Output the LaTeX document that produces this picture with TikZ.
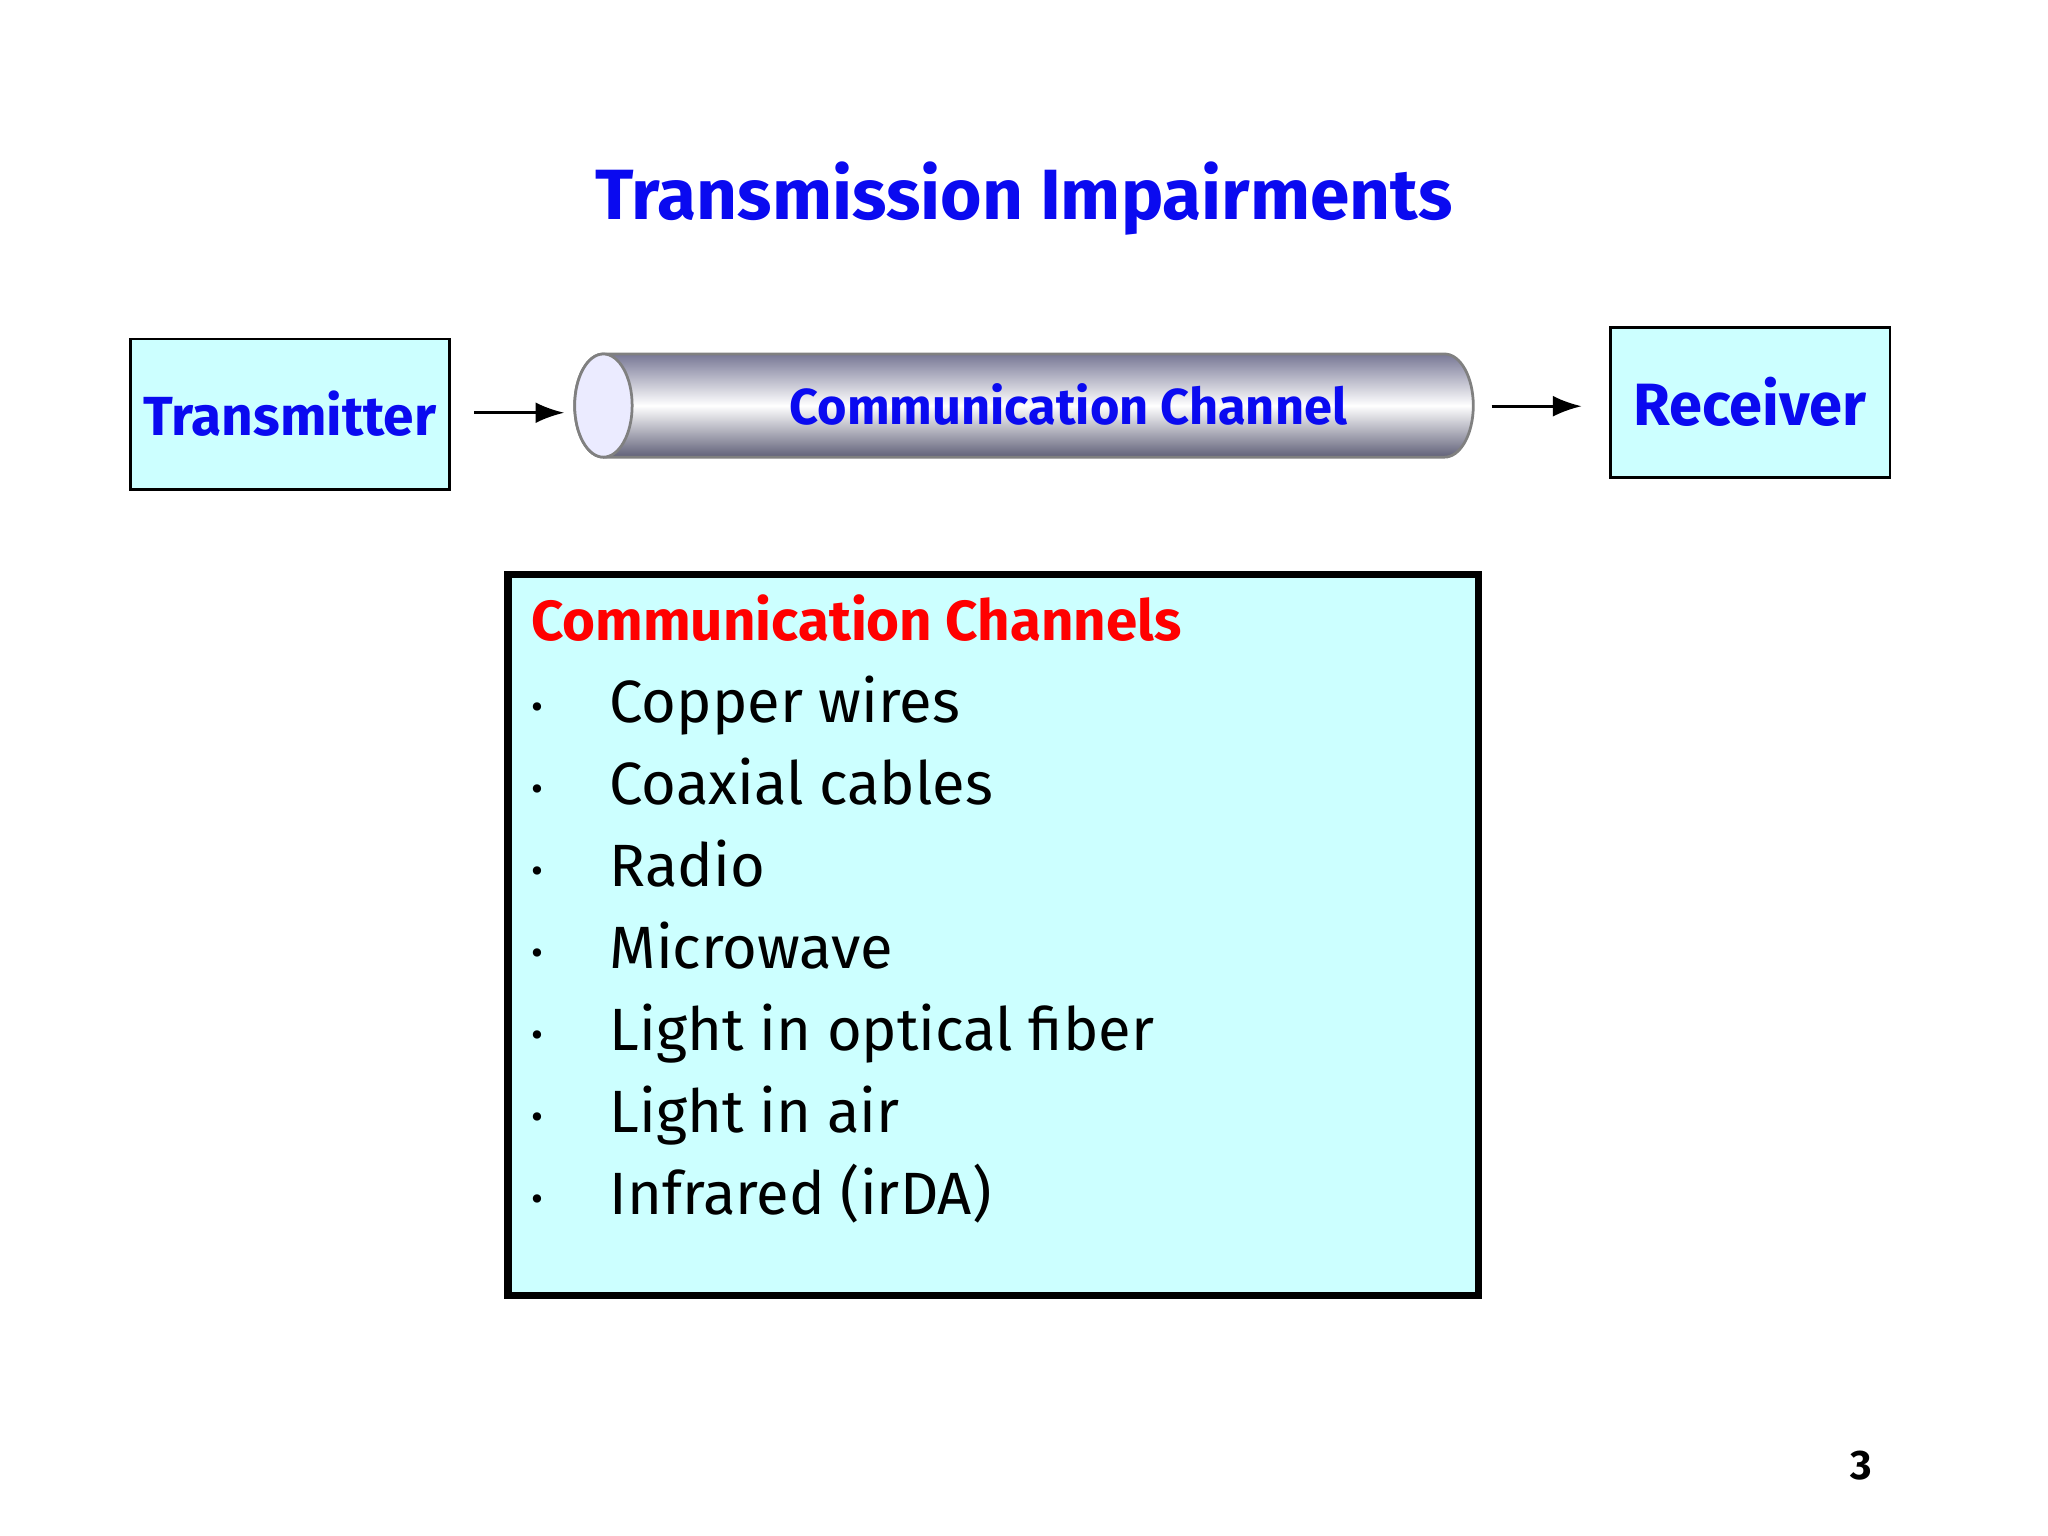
\documentclass[tikz,border=0pt]{standalone}
\usepackage{fontspec}
\setmainfont{Fira Sans}
\usetikzlibrary{positioning, arrows.meta}
\definecolor{boxcyan}{RGB}{204,255,255}
\definecolor{titleblue}{RGB}{10,10,240}
\definecolor{pipegray}{RGB}{120,120,150}
\tikzset{
  unit box/.style = {draw, fill = boxcyan, line width = 0.6pt, inner sep = 0pt,
    font = \bfseries\fontsize{12}{14}\selectfont, text = titleblue},
  item/.style = {anchor = base west, font = \fontsize{13}{15}\selectfont, inner sep = 0pt},
  link/.style = {-{Latex[length=2.2mm, width=1.6mm]}, line width = 0.6pt}
}
\begin{document}
\begin{tikzpicture}[x = 0.1mm, y = -0.1mm]
  \useasboundingbox (0,0) rectangle (1568,1176);
  \node [font = \bfseries\fontsize{15.5}{18}\selectfont, text = titleblue] (title) at (784,152) {Transmission Impairments};

  \node [unit box, minimum width = 24.4mm, minimum height = 11.5mm] (tx) at (222,317) {Transmitter};
  \node [unit box, font = \bfseries\fontsize{13}{15}\selectfont, minimum width = 21.4mm, minimum height = 11.5mm] (rx) at (1340,308) {Receiver};

  % channel pipe
  \shade [top color = pipegray, bottom color = pipegray!80!black, middle color = white, draw = gray, line width = 0.6pt]
    (462,271) -- (1106,271) arc [start angle = -90, end angle = 90, x radius = 22, y radius = 39.5]
    -- (462,350) arc [start angle = 90, end angle = 270, x radius = 22, y radius = 39.5] -- cycle;
  \draw [fill = white!92!blue, draw = gray, line width = 0.6pt] (462,310.5) ellipse [x radius = 22, y radius = 39.5];
  \node [font = \bfseries\fontsize{11}{13}\selectfont, text = titleblue] (chan) at (818,310) {Communication Channel};
  \coordinate (chan-w) at (440,316);
  \coordinate (chan-e) at (1128,311);

  \draw [link] ([xshift = 1.8mm] tx.east |- chan-w) -- ([xshift = -0.8mm] chan-w);
  \draw [link] ([xshift = 1.4mm] chan-e) -- ([xshift = -2.1mm] rx.west |- chan-e);

  % list of channels
  \node [draw, fill = boxcyan, line width = 1.6pt, minimum width = 74.3mm, minimum height = 55.2mm] (list) at (760.5,716) {};
  \node [item, font = \bfseries\fontsize{12.3}{14}\selectfont, text = red] (head) at (406,490) {Communication Channels};
  \foreach \txt [count = \i] in {Copper wires, Coaxial cables, Radio, Microwave, Light in optical fiber, Light in air, Infrared (irDA)} {
    \node [item, font = \fontsize{8}{10}\selectfont] (b\i) at (406,488 + 62.8*\i) {\textbullet};
    \node [item] (it\i) at (466,490 + 62.8*\i) {\txt};
  }
  \node [font = \bfseries\fontsize{9}{11}\selectfont] (page) at (1425,1122) {3};
\end{tikzpicture}
\end{document}
